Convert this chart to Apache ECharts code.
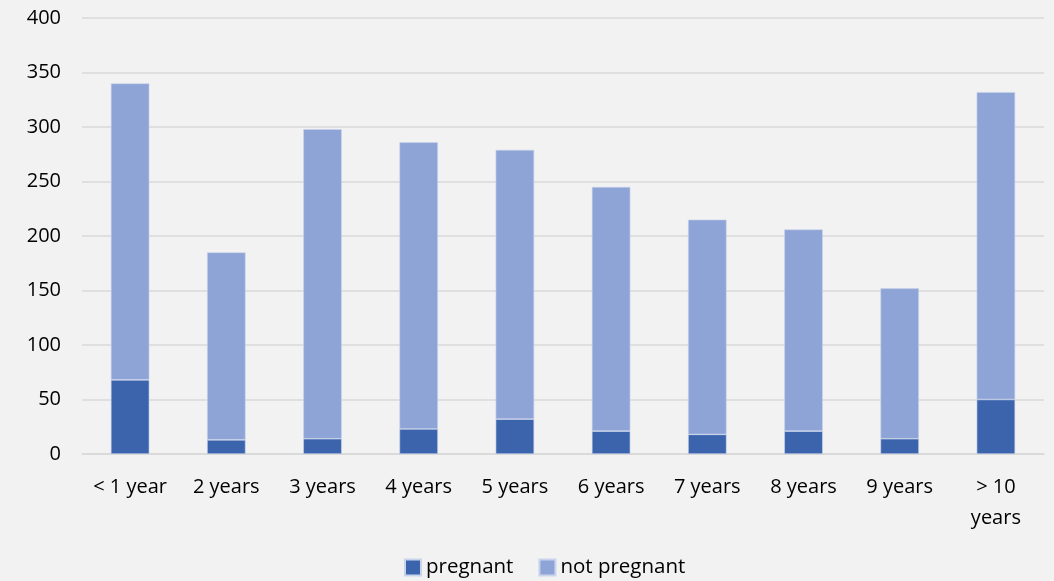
<!DOCTYPE html>
<html>
<head>
<meta charset="utf-8">
<script src="https://cdn.jsdelivr.net/npm/echarts@6/dist/echarts.min.js"></script>
<style>
  html, body { margin: 0; padding: 0; background: #f2f2f2; }
  #chart { width: 1054px; height: 581px; }
</style>
</head>
<body>
<div id="chart"></div>
<script>
const categories = ['< 1 year', '2 years', '3 years', '4 years', '5 years', '6 years', '7 years', '8 years', '9 years', '> 10\nyears']
const pregnant = [68, 13, 14, 23, 32, 21, 18, 21, 14, 50]
const notPregnant = [272, 172, 284, 263, 247, 224, 197, 185, 138, 282]

const font = "'Open Sans', 'Noto Sans', sans-serif"
const chart = echarts.init(document.getElementById('chart'))
chart.setOption({
  backgroundColor: '#f2f2f2',
  textStyle: { fontFamily: font },
  grid: { left: 82, right: 10, top: 18, bottom: 127 },
  legend: {
    bottom: -2,
    left: 399,
    itemWidth: 16,
    itemHeight: 16,
    itemGap: 25,
    icon: 'rect',
    textStyle: { fontSize: 20.5, color: '#000', fontFamily: font },
    data: ['pregnant', 'not pregnant']
  },
  xAxis: {
    type: 'category',
    data: categories,
    axisLine: { lineStyle: { color: '#d9d9d9', width: 1.5 } },
    axisTick: { show: false },
    axisLabel: { color: '#000', fontSize: 20, margin: 18, lineHeight: 31, fontFamily: font }
  },
  yAxis: {
    type: 'value',
    min: 0,
    max: 400,
    interval: 50,
    axisLine: { show: false },
    axisTick: { show: false },
    splitLine: { lineStyle: { color: '#d9d9d9', width: 1.5 } },
    axisLabel: { color: '#000', fontSize: 20, margin: 21, fontFamily: font }
  },
  series: [
    {
      name: 'pregnant',
      type: 'bar',
      stack: 'total',
      barWidth: '40%',
      itemStyle: { color: '#3b64ad', borderColor: '#c9d3ec', borderWidth: 0.6 },
      data: pregnant
    },
    {
      name: 'not pregnant',
      type: 'bar',
      stack: 'total',
      barWidth: '40%',
      itemStyle: { color: '#8fa4d6', borderColor: '#c9d3ec', borderWidth: 0.6 },
      data: notPregnant
    }
  ]
})
</script>
</body>
</html>
